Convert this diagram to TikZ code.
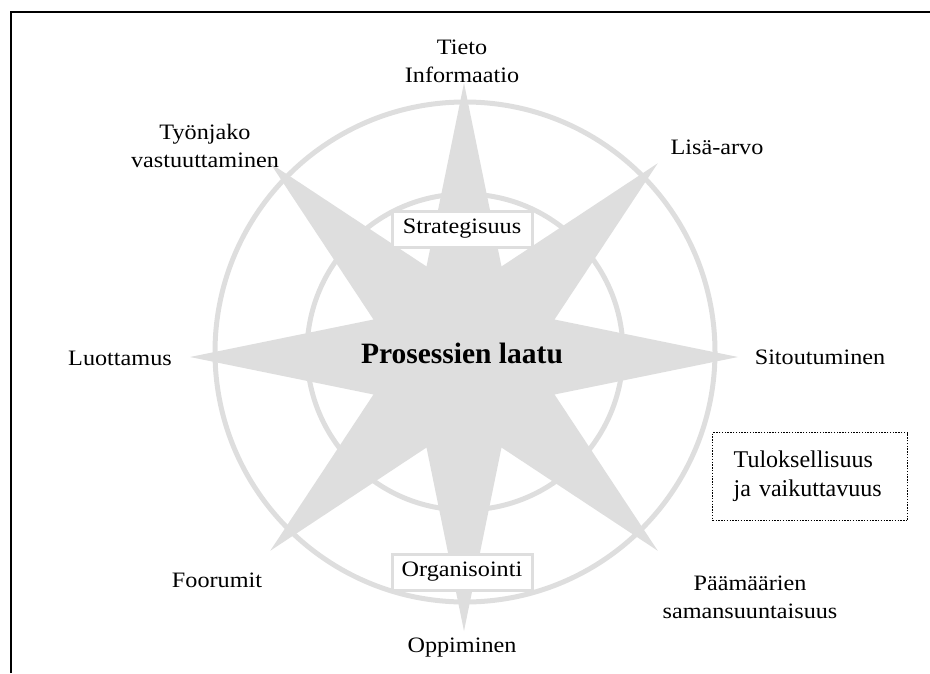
\documentclass[tikz,border=0pt]{standalone}
\usepackage{fontspec}
\setmainfont{Liberation Serif}[FakeStretch=1.1]
\newfontfamily\plainserif{Liberation Serif}
\definecolor{stargray}{HTML}{DEDEDE}
\begin{document}
\begin{tikzpicture}[x=1pt,y=-1pt,
  lbl/.style={font=\fontsize{22}{28}\selectfont, align=center, inner sep=0pt},
  ringline/.style={draw=stargray, line width=5pt},
  innerbox/.style={draw=stargray, line width=3pt, fill=white, minimum width=140pt, minimum height=36pt, inner sep=0pt, font=\fontsize{22}{28}\selectfont},
  dotbox/.style={draw=black, line width=1.4pt, dash pattern=on 1.4pt off 1.4pt, minimum height=88pt, text width=153pt, inner xsep=21pt, align=left, font=\plainserif\fontsize{24}{29}\selectfont}
]
\useasboundingbox (0,0) rectangle (930,673);
% frame
\draw[line width=1.8pt] (11,673) -- (11,12) -- (930,12);
% circles
\draw[ringline] (465,352) circle[radius=250];
\draw[ringline] (465,352) circle[radius=158];
% star
\fill[stargray, shift={(464,357)}] (0:274)
  \foreach \a in {0,45,...,315} { -- (\a+22.5:98) -- (\a+45:274) } -- cycle;
% centre text
\node[font=\plainserif\bfseries\fontsize{29.5}{34}\selectfont, inner sep=0pt] (laatu) at (462,353) {Prosessien laatu};
% inner boxes
\node[innerbox] (strat) at (462,229) {Strategisuus};
\node[innerbox] (org) at (462,572) {Organisointi};
% outer labels
\node[lbl] (tieto) at (462,61) {Tieto\\Informaatio};
\node[lbl] (tyon) at (205,146) {Työnjako\\vastuuttaminen};
\node[lbl] (lisa) at (717,147) {Lisä-arvo};
\node[lbl] (luot) at (120,358) {Luottamus};
\node[lbl] (sito) at (820,357) {Sitoutuminen};
\node[lbl] (foor) at (217,580) {Foorumit};
\node[lbl] (paam) at (750,597) {Päämäärien\\samansuuntaisuus};
\node[lbl] (oppi) at (462,648) {Oppiminen};
% dotted box
\node[dotbox, anchor=north west] (tulos) at (712,432) {Tuloksellisuus\\ja vaikuttavuus};
\end{tikzpicture}
\end{document}
